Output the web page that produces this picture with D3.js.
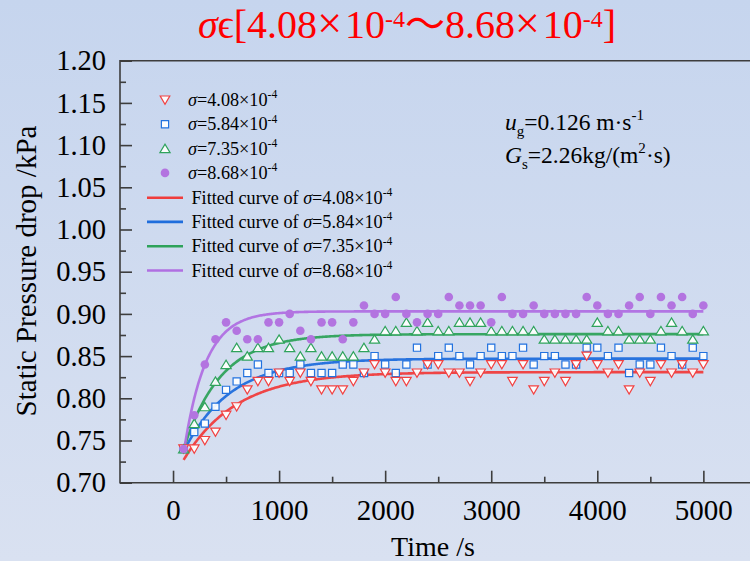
<!DOCTYPE html>
<html>
<head>
<meta charset="utf-8">
<script src="https://cdn.jsdelivr.net/npm/d3@7"></script>
<style>
  html, body { margin: 0; padding: 0; background: #d3dcef; }
  svg { display: block; }
  text { font-family: "Liberation Serif", "Times New Roman", serif; fill: #000; }
</style>
</head>
<body>
<svg id="chart" width="750" height="561"></svg>
<script>
// Sampling times (s)
const times = [100, 200, 300, 400, 500, 600, 700, 800, 900, 1000,
  1100, 1200, 1300, 1400, 1500, 1600, 1700, 1800, 1900, 2000,
  2100, 2200, 2300, 2400, 2500, 2600, 2700, 2800, 2900, 3000,
  3100, 3200, 3300, 3400, 3500, 3600, 3700, 3800, 3900, 4000,
  4100, 4200, 4300, 4400, 4500, 4600, 4700, 4800, 4900, 5000];

// Measured static pressure drop (kPa) for each sigma
const dp408 = [0.74, 0.74, 0.75, 0.76, 0.78, 0.79, 0.81, 0.82, 0.82, 0.83,
  0.82, 0.83, 0.82, 0.81, 0.81, 0.81, 0.82, 0.83, 0.84, 0.83,
  0.82, 0.82, 0.83, 0.84, 0.84, 0.83, 0.83, 0.82, 0.83, 0.84,
  0.84, 0.82, 0.84, 0.81, 0.82, 0.83, 0.82, 0.84, 0.85, 0.84,
  0.83, 0.84, 0.81, 0.83, 0.82, 0.84, 0.83, 0.84, 0.83, 0.84];
const dp584 = [0.74, 0.76, 0.77, 0.79, 0.81, 0.82, 0.83, 0.84, 0.83, 0.83,
  0.83, 0.84, 0.83, 0.83, 0.83, 0.84, 0.84, 0.83, 0.85, 0.84,
  0.83, 0.84, 0.86, 0.84, 0.85, 0.86, 0.85, 0.84, 0.85, 0.86,
  0.85, 0.85, 0.86, 0.84, 0.85, 0.85, 0.84, 0.84, 0.86, 0.86,
  0.85, 0.86, 0.83, 0.84, 0.84, 0.86, 0.85, 0.84, 0.86, 0.85];
const dp735 = [0.74, 0.77, 0.79, 0.82, 0.84, 0.86, 0.85, 0.86, 0.86, 0.87,
  0.86, 0.85, 0.86, 0.85, 0.85, 0.85, 0.85, 0.86, 0.87, 0.88,
  0.88, 0.89, 0.88, 0.89, 0.88, 0.88, 0.89, 0.89, 0.89, 0.88,
  0.88, 0.88, 0.88, 0.88, 0.87, 0.87, 0.87, 0.87, 0.87, 0.89,
  0.88, 0.88, 0.87, 0.87, 0.87, 0.88, 0.89, 0.88, 0.87, 0.88];
const dp868 = [0.74, 0.78, 0.84, 0.87, 0.89, 0.88, 0.87, 0.87, 0.89, 0.89,
  0.90, 0.88, 0.87, 0.89, 0.89, 0.87, 0.89, 0.91, 0.90, 0.90,
  0.92, 0.90, 0.89, 0.90, 0.90, 0.92, 0.91, 0.91, 0.91, 0.89,
  0.92, 0.90, 0.90, 0.91, 0.90, 0.90, 0.90, 0.90, 0.92, 0.91,
  0.90, 0.90, 0.91, 0.92, 0.90, 0.92, 0.91, 0.92, 0.90, 0.91];

// Fitted first-order curves: dp = plateau - (plateau - start) * exp(-(t - t0) / tau)
const sigmaLabels = ["4.08", "5.84", "7.35", "8.68"];
const fitPlateau = [0.831, 0.847, 0.876, 0.903];
const fitStart = [0.727, 0.737, 0.740, 0.735];
const fitTau = [500, 440, 350, 205];
const fitRange = [100, 5000];

// Axis ticks
const xMajor = [0, 1000, 2000, 3000, 4000, 5000];
const xMinor = [500, 1500, 2500, 3500, 4500];
const yMajor = [0.70, 0.75, 0.80, 0.85, 0.90, 0.95, 1.00, 1.05, 1.10, 1.15, 1.20];
const yMinor = [0.725, 0.775, 0.825, 0.875, 0.925, 0.975, 1.025, 1.075, 1.125, 1.175];

const colors = ["#f24141", "#2272df", "#2fa35c", "#b374e0"];
const lineColors = ["#f03c3c", "#1f6ddc", "#2ea25a", "#b06fe2"];
const series = [dp408, dp584, dp735, dp868];

const svg = d3.select("#chart");

// background gradient
const defs = svg.append("defs");
const grad = defs.append("linearGradient").attr("id", "bg")
  .attr("x1", 0).attr("y1", 0).attr("x2", 0).attr("y2", 1);
grad.append("stop").attr("offset", "0%").attr("stop-color", "#c6d5ee");
grad.append("stop").attr("offset", "100%").attr("stop-color", "#d9e1f1");
svg.append("rect").attr("width", 750).attr("height", 561).attr("fill", "url(#bg)");

const x = d3.scaleLinear().domain([-500, 5500]).range([120, 756.4]);
const y = d3.scaleLinear().domain([0.70, 1.20]).range([482.7, 60.7]);

// rich text helper: parts = [[text, style, extra]], style: "" | "i" | "sup" | "sub"
function rich(sel, parts, size, supRaise = 0.42, supScale = 0.64) {
  let shift = 0;
  parts.forEach(([txt, st, extra]) => {
    const ts = sel.append("tspan").text(txt);
    let target = 0;
    if (st === "sup") { target = -supRaise * size; ts.attr("font-size", size * supScale); }
    else if (st === "sub") { target = 0.24 * size; ts.attr("font-size", size * 0.64); }
    else ts.attr("font-size", size);
    if (st === "i") ts.attr("font-style", "italic");
    if (target !== shift) { ts.attr("dy", target - shift); shift = target; }
    if (extra) Object.entries(extra).forEach(([k, v]) => ts.attr(k, v));
  });
  return sel;
}

// frame
const axisColor = "#3d3d3d";
const frame = svg.append("g").attr("stroke", axisColor).attr("stroke-width", 1.6).attr("fill", "none");
frame.append("path").attr("d", `M${x(-500)},${y(1.20)}H${x(5500)}V${y(0.70)}H${x(-500)}Z`);

// bottom axis (inward ticks)
const gx = svg.append("g").attr("transform", `translate(0,${y(0.70)})`);
gx.call(d3.axisBottom(x).tickValues(xMajor).tickSize(-12).tickPadding(17).tickFormat(d3.format("d")));
gx.append("g").call(d3.axisBottom(x).tickValues(xMinor).tickSize(-6).tickFormat(""));
gx.selectAll(".domain").remove();
gx.selectAll("line").attr("stroke", axisColor).attr("stroke-width", 1.6);
gx.selectAll("text").attr("font-size", 29).attr("font-family", "Liberation Serif, serif").attr("fill", "#000");

// left axis (inward ticks)
const gy = svg.append("g").attr("transform", `translate(${x(-500)},0)`);
gy.call(d3.axisLeft(y).tickValues(yMajor).tickSize(-12).tickPadding(14).tickFormat(d3.format(".2f")));
gy.append("g").call(d3.axisLeft(y).tickValues(yMinor).tickSize(-6).tickFormat(""));
gy.selectAll(".domain").remove();
gy.selectAll("line").attr("stroke", axisColor).attr("stroke-width", 1.6);
gy.selectAll("text").attr("font-size", 28.5).attr("font-family", "Liberation Serif, serif").attr("fill", "#000");

// axis titles
svg.append("text").attr("x", 433).attr("y", 556).attr("text-anchor", "middle")
  .attr("font-size", 28).text("Time /s");
svg.append("text").attr("transform", `translate(36,271) rotate(-90)`).attr("text-anchor", "middle")
  .attr("font-size", 29).text("Static Pressure drop /kPa");

// marker shapes (bounding-box centred)
const shapes = [
  () => "M-4.8,-4H4.8L0,4.3Z",             // down triangle
  () => "M-3.6,-3.6H3.6V3.6H-3.6Z",        // square
  () => "M-5.1,4H5.1L0,-4.4Z",             // up triangle
  null                                     // circle
];

function drawMarker(g, i, cx, cy) {
  if (i === 3) {
    g.append("circle").attr("cx", cx).attr("cy", cy).attr("r", 4.3).attr("fill", colors[3]);
  } else {
    g.append("path").attr("d", shapes[i]())
      .attr("transform", `translate(${cx},${cy})`)
      .attr("fill", "#fff").attr("fill-opacity", 0.92)
      .attr("stroke", colors[i]).attr("stroke-width", 1.2);
  }
}

// fitted curves
const line = d3.line().x(d => x(d[0])).y(d => y(d[1])).curve(d3.curveLinear);
const tSamples = d3.range(fitRange[0], fitRange[1] + 1, 10);
const curves = svg.append("g");
fitPlateau.forEach((A, i) => {
  const pts = tSamples.map(t => [t, A - (A - fitStart[i]) * Math.exp(-(t - fitRange[0]) / fitTau[i])]);
  curves.append("path").datum(pts).attr("d", line)
    .attr("fill", "none").attr("stroke", lineColors[i]).attr("stroke-width", 2.6)
    .attr("stroke-opacity", 0.95);
});

// measured points (draw order keeps purple on top)
const pts = svg.append("g");
[1, 0, 2, 3].forEach(i => {
  const g = pts.append("g");
  series[i].forEach((v, k) => drawMarker(g, i, x(times[k]), y(v)));
});

// legend
const leg = svg.append("g");
const rowY = [100, 124.3, 148.6, 172.9, 197.8, 221.9, 246.2, 270.5];
const legSize = 18.2;
sigmaLabels.forEach((s, i) => {
  drawMarker(leg, i, 165, rowY[i]);
  const t = leg.append("text").attr("x", 188).attr("y", rowY[i] + 6);
  rich(t, [["σ", "i"], ["=" + s + "×10", ""], ["-4", "sup"]], legSize);
});
sigmaLabels.forEach((s, i) => {
  const yy = rowY[4 + i];
  leg.append("line").attr("x1", 147).attr("x2", 183).attr("y1", yy).attr("y2", yy)
    .attr("stroke", lineColors[i]).attr("stroke-width", 2.6);
  const t = leg.append("text").attr("x", 191.5).attr("y", yy + 6);
  rich(t, [["Fitted curve of ", ""], ["σ", "i"], ["=" + s + "×10", ""], ["-4", "sup"]], legSize);
});

// operating conditions
const ann1 = svg.append("text").attr("x", 505).attr("y", 130);
rich(ann1, [["u", "i"], ["g", "sub"], ["=0.126 m·s", ""], ["-1", "sup"]], 23.5);
const ann2 = svg.append("text").attr("x", 505).attr("y", 163);
rich(ann2, [["G", "i"], ["s", "sub"], ["=2.26kg/(m", ""], ["2", "sup"], ["·s)", ""]], 23.5);

// title
const title = svg.append("text").attr("x", 407).attr("y", 38).attr("text-anchor", "middle");
rich(title, [
  ["σ", "i"], ["ϵ[4.08", ""], ["×", "", { "font-size": 44 }], ["10", "", { dx: 3 }], ["-4", "sup"],
  ["～", "", { "font-family": "Noto Sans CJK SC" }], ["8.68", ""],
  ["×", "", { "font-size": 44 }], ["10", "", { dx: 3 }], ["-4", "sup"], ["]", ""]
], 40, 0.27, 0.6);
title.selectAll("tspan").style("fill", "#ff0000");
</script>
</body>
</html>
